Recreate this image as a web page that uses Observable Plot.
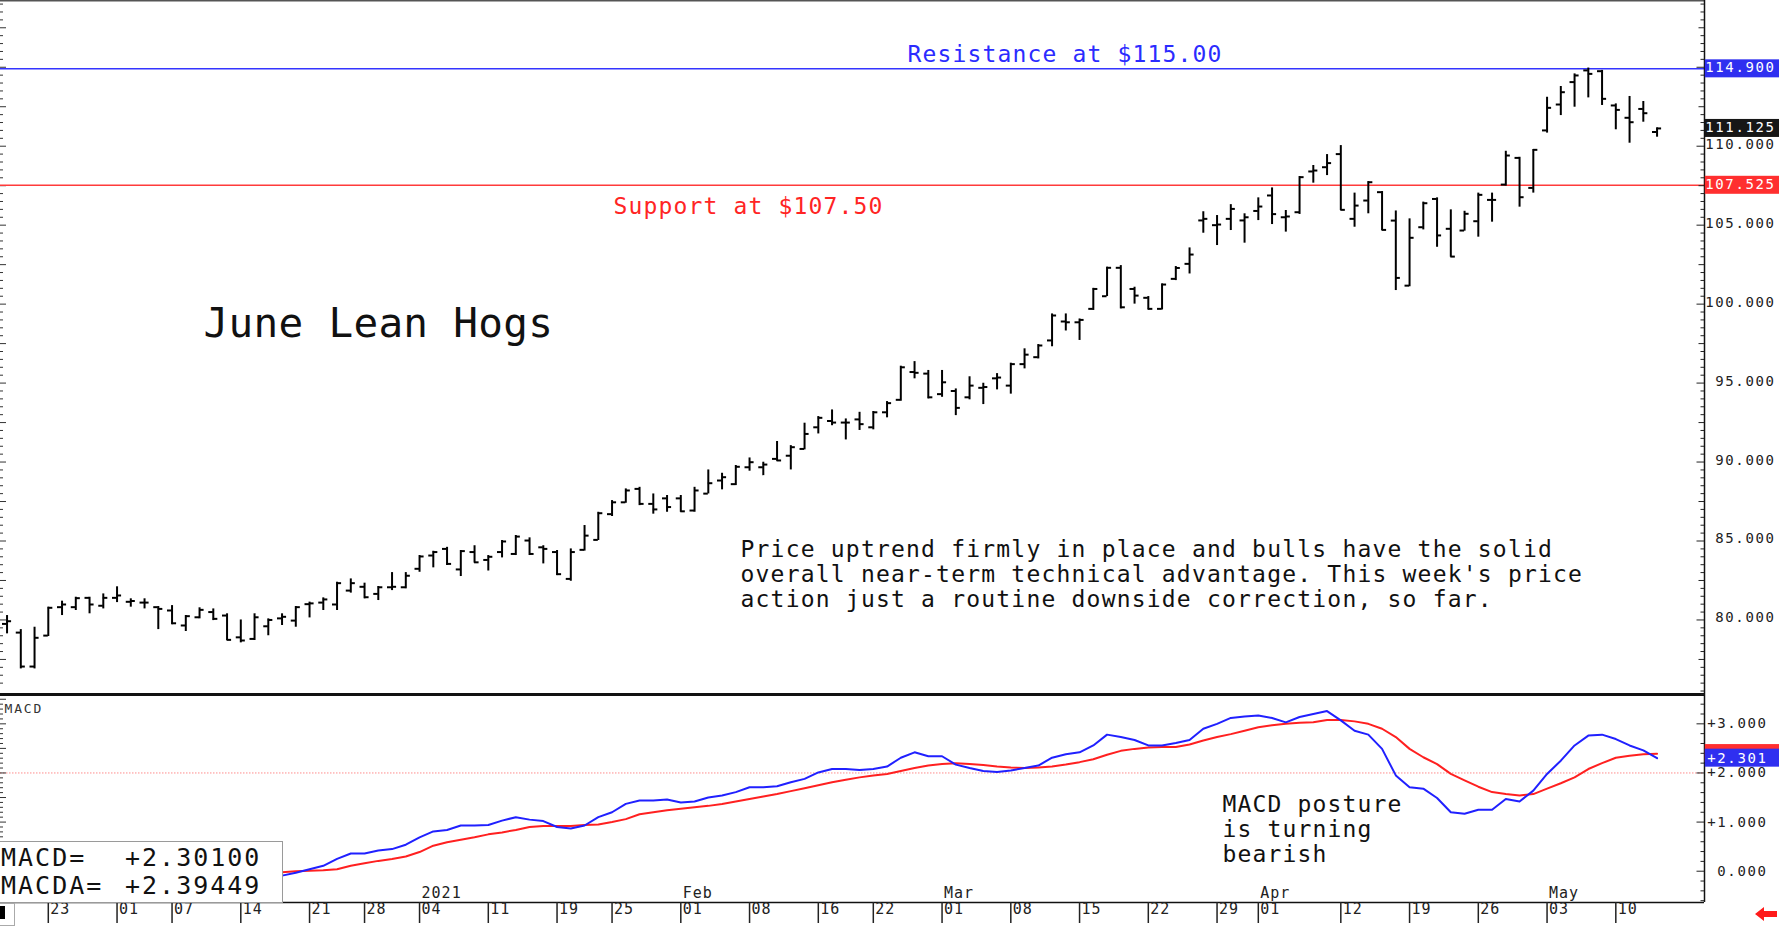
<!DOCTYPE html>
<html>
<head>
<meta charset="utf-8">
<script src="https://cdn.jsdelivr.net/npm/d3@7"></script>
<script src="https://cdn.jsdelivr.net/npm/@observablehq/plot@0.6"></script>
<style>
  body { margin: 0; background: #fff; }
  #wrap { position: relative; width: 1781px; height: 928px; overflow: hidden; background: #fff; }
  #wrap svg { display: block; overflow: visible; max-width: none; }
  .mono { font-family: "DejaVu Sans Mono", monospace; }
</style>
</head>
<body>
<div id="wrap"></div>
<script>
// ---------------- DATA ----------------
const startDate = "2020-11-18";
const endDate = "2021-05-13";
const holidays = ["2020-11-26", "2020-12-25", "2021-01-01", "2021-01-18", "2021-02-15", "2021-04-02"];

const opens = [79.75,79.2,77.05,79.01,80.81,80.81,81.4,80.9,81.4,81.15,
81.1,80.81,80.6,79.65,80.17,80.5,80.28,78.9,78.8,79.6,
80.1,79.96,81.0,81.1,80.98,81.86,82.1,81.65,82.07,82.07,
83.24,84.08,84.5,83.2,84.3,83.8,84.3,84.18,85.03,84.6,
84.3,82.6,84.44,85.07,86.7,87.45,88.3,87.35,87.7,87.7,
86.93,88.0,88.83,88.6,89.67,89.67,90.2,90.4,90.83,92.2,
92.6,92.5,92.7,92.2,93.15,93.94,95.7,95.6,94.3,94.5,
94.1,94.7,95.3,94.84,96.2,96.64,97.7,98.9,98.85,99.7,
100.5,102.3,100.96,100.4,99.7,101.6,102.55,105.3,105.0,105.4,
105.3,105.9,106.88,105.5,105.82,108.4,108.67,109.5,105.4,106.56,
107.09,105.29,101.17,104.87,106.66,104.77,104.66,105.25,106.6,107.57,
109.26,107.36,111.0,112.64,114.06,114.8,114.75,112.58,111.8,112.36,
110.9];

const highs = [80.28,79.39,79.54,80.81,81.19,81.44,81.44,81.65,82.1,81.34,
81.34,80.85,80.91,80.28,80.77,80.7,80.39,80.0,80.39,80.07,
80.39,80.85,81.13,81.4,82.39,82.6,82.33,82.12,83.0,83.0,
84.08,84.35,84.6,84.4,84.7,84.08,85.03,85.35,85.2,84.7,
84.4,84.5,85.98,86.82,87.56,88.3,88.4,87.98,87.88,87.88,
88.4,89.5,89.29,89.78,90.26,89.99,91.3,91.04,92.46,92.88,
93.3,92.73,93.15,93.2,93.83,96.07,96.36,95.8,95.8,94.63,
95.4,94.99,95.6,96.26,97.17,97.44,99.38,99.38,99.06,101.0,
102.34,102.44,101.07,100.48,101.28,102.38,103.56,105.85,105.61,106.3,
105.72,106.73,107.36,105.93,108.08,108.78,109.47,110.04,107.03,107.76,
107.13,105.9,105.4,106.46,106.73,105.97,105.88,107.03,107.03,109.68,
109.3,109.79,113.1,113.78,114.58,114.95,114.8,112.68,113.15,112.83,
111.16];

const lows = [79.12,76.9,76.9,78.95,80.28,80.6,80.39,80.7,81.1,80.81,
80.7,79.39,79.7,79.27,80.07,79.96,78.7,78.55,78.7,79.0,
79.65,79.54,80.13,80.6,80.6,81.7,81.34,81.23,81.86,81.97,
83.02,83.3,83.45,82.75,83.6,83.1,83.93,84.08,84.08,83.55,
82.81,82.45,84.36,85.03,86.55,87.39,87.24,86.7,86.82,86.82,
86.82,87.98,88.24,88.51,89.42,89.14,90.05,89.5,90.77,91.78,
92.3,91.4,92.0,92.04,92.8,93.85,95.27,94.0,94.1,92.94,
93.94,93.64,94.57,94.3,95.9,96.53,97.3,98.3,97.7,99.6,
100.48,99.7,100.0,99.63,99.63,101.49,101.91,104.49,103.71,104.66,
103.86,105.29,105.04,104.56,105.68,107.66,108.14,105.93,104.87,105.72,
104.66,100.86,101.1,104.7,103.6,102.97,104.62,104.24,105.19,107.47,
106.14,107.03,110.83,111.94,112.47,113.06,112.58,111.04,110.19,111.52,
110.57];

const closes = [79.92,77.05,78.87,80.77,80.98,81.38,80.98,81.4,81.55,81.2,
81.1,80.7,79.79,80.24,80.64,80.07,78.74,78.7,80.17,80.0,
80.2,80.81,81.05,81.3,82.33,82.33,81.44,82.07,82.1,82.8,
84.02,84.3,83.55,84.36,83.65,84.0,84.97,85.28,84.18,84.5,
82.9,84.3,85.34,86.76,87.45,88.2,87.35,87.0,87.15,86.88,
88.2,88.66,89.04,89.7,89.99,89.84,90.1,90.94,91.78,92.8,
92.5,92.5,92.4,93.15,93.73,96.0,95.65,94.1,95.05,93.43,
94.84,94.75,95.35,96.2,96.8,97.38,99.28,98.85,99.0,100.96,
102.3,99.8,100.54,99.7,101.24,102.29,103.14,105.4,105.04,106.03,
105.5,106.18,105.7,105.55,108.04,108.46,108.93,105.97,106.24,107.72,
104.7,101.66,104.2,106.39,104.35,103.01,105.72,106.92,106.6,109.41,
106.77,109.77,112.43,113.42,114.48,114.58,113.0,112.3,111.52,112.09,
111.125];

// MACD (blue) and its average (red), from the 21st session on
const macdStart = 20;
const macd = [-0.09,-0.03,0.04,0.11,0.25,0.36,0.36,0.42,0.45,0.54,
0.69,0.81,0.84,0.93,0.93,0.94,1.03,1.10,1.05,1.02,
0.90,0.87,0.93,1.10,1.20,1.37,1.44,1.44,1.46,1.40,
1.42,1.50,1.54,1.61,1.71,1.71,1.73,1.81,1.88,2.01,
2.08,2.08,2.06,2.08,2.13,2.31,2.42,2.34,2.34,2.17,
2.10,2.04,2.02,2.05,2.10,2.15,2.31,2.38,2.42,2.56,
2.78,2.73,2.67,2.56,2.56,2.61,2.67,2.90,3.00,3.12,
3.15,3.17,3.12,3.03,3.14,3.20,3.26,3.07,2.86,2.78,
2.49,1.95,1.71,1.68,1.49,1.20,1.17,1.25,1.25,1.47,
1.42,1.64,1.98,2.25,2.56,2.76,2.78,2.69,2.56,2.46,
2.30];
const macdAvg = [-0.02,0.00,0.01,0.02,0.04,0.11,0.16,0.21,0.25,0.30,
0.39,0.52,0.59,0.64,0.69,0.75,0.79,0.84,0.90,0.92,
0.92,0.92,0.94,0.95,1.00,1.06,1.16,1.20,1.24,1.27,
1.30,1.33,1.37,1.42,1.47,1.52,1.57,1.63,1.69,1.75,
1.81,1.86,1.91,1.95,1.98,2.04,2.10,2.15,2.18,2.20,
2.18,2.16,2.13,2.11,2.10,2.11,2.13,2.17,2.22,2.28,
2.37,2.45,2.49,2.52,2.53,2.53,2.58,2.66,2.73,2.79,
2.86,2.93,2.97,3.00,3.02,3.03,3.08,3.08,3.05,3.00,
2.90,2.73,2.49,2.32,2.18,1.98,1.85,1.72,1.61,1.57,
1.54,1.57,1.68,1.79,1.91,2.08,2.20,2.31,2.35,2.38,
2.39];

const resistance = 114.9;
const support = 107.525;
const lastPrice = 111.125;
const macdValue = 2.30100;
const macdAvgValue = 2.39449;

const priceTicks = [80, 85, 90, 95, 100, 105, 110];
const macdTicks = [0, 1, 2, 3];
const dateTicks = ["2020-11-23","2020-12-01","2020-12-07","2020-12-14","2020-12-21","2020-12-28",
  "2021-01-04","2021-01-11","2021-01-19","2021-01-25","2021-02-01","2021-02-08","2021-02-16",
  "2021-02-22","2021-03-01","2021-03-08","2021-03-15","2021-03-22","2021-03-29","2021-04-01",
  "2021-04-12","2021-04-19","2021-04-26","2021-05-03","2021-05-10"];
const monthDates = ["2021-01-04", "2021-02-01", "2021-03-01", "2021-04-01", "2021-05-03"];
const monthLabels = ["2021", "Feb", "Mar", "Apr", "May"];

const title = "June Lean Hogs";
const resistanceLabel = "Resistance at $115.00";
const supportLabel = "Support at $107.50";
const comment = "Price uptrend firmly in place and bulls have the solid\noverall near-term technical advantage. This week's price\naction just a routine downside correction, so far.";
const macdComment = "MACD posture\nis turning\nbearish";

// ---------------- BUILD ----------------
const fmt = d3.utcFormat("%Y-%m-%d");
const days = d3.utcDay.range(new Date(startDate), d3.utcDay.offset(new Date(endDate), 1))
  .filter(d => d.getUTCDay() % 6 !== 0 && !holidays.includes(fmt(d)));
const idxOf = new Map(days.map((d, i) => [fmt(d), i]));
const bars = days.map((d, i) => ({i, date: d, o: opens[i], h: highs[i], l: lows[i], c: closes[i]}));
const macdData = macd.map((v, k) => ({i: k + macdStart, macd: v, avg: macdAvg[k]}));

const W = 1781, PLOT_R = 77;
const X_DOMAIN = [-0.476, 123.45];
const PX = (W - PLOT_R) / (X_DOMAIN[1] - X_DOMAIN[0]);
const xMin = X_DOMAIN[0], xMax = X_DOMAIN[1];

const H1 = 694;
const Y_DOMAIN = [75.28, 119.227];
const PY = H1 / (Y_DOMAIN[1] - Y_DOMAIN[0]);

const H2 = 234, MB2 = 26;
const M_DOMAIN = [-0.637, 3.597];
const PM = (H2 - MB2) / (M_DOMAIN[1] - M_DOMAIN[0]);

const BLUE = "#3434ff", RED = "#ff3b3b", BOXBLUE = "#2f2ff0", BOXRED = "#ff2f2f";
const FONT = "DejaVu Sans Mono";
const ls = px => ({ariaDescription: "ls:" + px});

const leftTicks = d3.range(76, 119.01, 0.5);
const rightTicks = d3.range(75.5, 119.01, 0.5);
const isMult = (v, m) => Math.abs(v / m - Math.round(v / m)) < 1e-6;

const priceBoxes = [
  {v: resistance, fill: BOXBLUE, text: resistance.toFixed(3)},
  {v: lastPrice, fill: "#161616", text: lastPrice.toFixed(3)},
  {v: support, fill: BOXRED, text: support.toFixed(3)}
];

const price = Plot.plot({
  width: W, height: H1,
  marginTop: 0, marginBottom: 0, marginLeft: 0, marginRight: PLOT_R,
  x: {domain: X_DOMAIN, axis: null, label: null},
  y: {domain: Y_DOMAIN, axis: null, label: null},
  style: {fontFamily: FONT, background: "white", overflow: "visible"},
  marks: [
    Plot.ruleY([Y_DOMAIN[1]], {stroke: "#555", strokeWidth: 2}),
    Plot.ruleY(leftTicks, {y: d => d, x1: () => xMin, x2: d => xMin + (isMult(d, 2.5) ? 6 : 3) / PX, stroke: "#333"}),
    Plot.ruleY([support], {stroke: RED, strokeWidth: 1.5}),
    Plot.ruleY([resistance], {stroke: BLUE, strokeWidth: 1.5}),
    Plot.ruleX(bars, {x: "i", y1: "l", y2: "h", stroke: "black", strokeWidth: 2}),
    Plot.ruleY(bars, {y: "o", x1: d => d.i - 0.33, x2: "i", stroke: "black", strokeWidth: 2}),
    Plot.ruleY(bars, {y: "c", x1: "i", x2: d => d.i + 0.33, stroke: "black", strokeWidth: 2}),
    Plot.ruleX([xMax], {stroke: "#111", strokeWidth: 1.5}),
    Plot.ruleY(rightTicks, {y: d => d, x1: d => xMax - (isMult(d, 5) ? 7.5 : isMult(d, 2.5) ? 5.5 : 3.5) / PX, x2: () => xMax, stroke: "#222"}),
    Plot.text(priceTicks, {x: () => xMax, y: d => d, text: d => d.toFixed(3), textAnchor: "end", dx: 71, dy: -2, fontSize: 14, fill: "#222", ...ls(1.6)}),
    Plot.rect(priceBoxes, {x1: () => xMax + 0.8 / PX, x2: () => xMax + 75 / PX, y1: d => d.v - 9 / PY, y2: d => d.v + 9 / PY, fill: d => d.fill}),
    Plot.text(priceBoxes, {x: () => xMax, y: "v", text: "text", textAnchor: "end", dx: 71, dy: -1, fontSize: 14, fill: "white", ...ls(1.6)}),
    Plot.text([resistanceLabel], {frameAnchor: "top-left", dx: 907, dy: 61, text: d => d, lineAnchor: "bottom", textAnchor: "start", fontSize: 23, fill: "#2b2bff", ...ls(1.15)}),
    Plot.text([supportLabel], {frameAnchor: "top-left", dx: 613, dy: 213, text: d => d, lineAnchor: "bottom", textAnchor: "start", fontSize: 23, fill: "#ff2424", ...ls(1.15)}),
    Plot.text([title], {frameAnchor: "top-left", dx: 203, dy: 336, text: d => d, lineAnchor: "bottom", textAnchor: "start", fontSize: 41, fill: "#111", ...ls(0.3)}),
    Plot.text([comment], {frameAnchor: "top-left", dx: 740, dy: 606, text: d => d, lineAnchor: "bottom", textAnchor: "start", fontSize: 23, lineHeight: 25 / 23, fill: "#111", ...ls(1.2)})
  ]
});

const macdLeftTicks = d3.range(-0.5, 3.51, 0.1);
const macdRightTicks = d3.range(-0.6, 3.61, 0.2);
const macdBoxes = [
  {v: macdAvgValue, fill: BOXRED},
  {v: macdValue, fill: BOXBLUE}
];
const tickIdx = dateTicks.map(d => idxOf.get(d));
const monthIdx = monthDates.map(d => idxOf.get(d));

const macdPlot = Plot.plot({
  width: W, height: H2,
  marginTop: 0, marginBottom: MB2, marginLeft: 0, marginRight: PLOT_R,
  x: {domain: X_DOMAIN, axis: null, label: null},
  y: {domain: M_DOMAIN, axis: null, label: null},
  style: {fontFamily: FONT, background: "white", overflow: "visible"},
  marks: [
    Plot.ruleY([2], {stroke: "#ff8c8c", strokeDasharray: "1.5,1.5"}),
    Plot.ruleY(macdLeftTicks, {y: d => d, x1: () => xMin, x2: d => xMin + (isMult(d, 0.5) ? 6 : 3) / PX, stroke: "#333"}),
    Plot.line(macdData, {x: "i", y: "avg", stroke: "#ff2020", strokeWidth: 2}),
    Plot.line(macdData, {x: "i", y: "macd", stroke: "#2020ff", strokeWidth: 2}),
    Plot.ruleY([M_DOMAIN[1]], {stroke: "#111", strokeWidth: 3}),
    Plot.ruleY([M_DOMAIN[0]], {stroke: "#111", strokeWidth: 1.5}),
    Plot.ruleX([xMax], {stroke: "#111", strokeWidth: 1.5}),
    Plot.ruleY(macdRightTicks, {y: d => d, x1: d => xMax - (isMult(d, 1) ? 7.5 : 3.5) / PX, x2: () => xMax, stroke: "#222"}),
    Plot.text(macdTicks, {x: () => xMax, y: d => d, text: d => (d > 0 ? "+" : "") + d.toFixed(3), textAnchor: "end", dx: 63, fontSize: 14, fill: "#222", ...ls(1.6)}),
    Plot.rect(macdBoxes, {x1: () => xMax + 0.8 / PX, x2: () => xMax + 75 / PX, y1: d => d.v - 9 / PM, y2: d => d.v + 9 / PM, fill: d => d.fill}),
    Plot.text([macdValue], {x: () => xMax, y: d => d, text: d => "+" + d.toFixed(3), textAnchor: "end", dx: 63, fontSize: 14, fill: "white", ...ls(1.6)}),
    Plot.axisX(tickIdx, {anchor: "bottom", tickSize: 21, tickFormat: () => "", stroke: "#222", strokeWidth: 1.5}),
    Plot.text(tickIdx, {x: d => d, text: (d, k) => d3.utcFormat("%d")(new Date(dateTicks[k])), frameAnchor: "bottom", dy: 11, dx: 2, textAnchor: "start", fontSize: 15, fill: "#222", ...ls(1)}),
    Plot.text(monthIdx, {x: d => d, text: (d, k) => monthLabels[k], frameAnchor: "bottom", dy: -5, dx: 2, textAnchor: "start", fontSize: 15, fill: "#222", ...ls(1)}),
    Plot.text(["MACD"], {frameAnchor: "top-left", dx: 4, dy: 9, text: d => d, textAnchor: "start", fontSize: 13, fill: "#333", ...ls(1.8)}),
    Plot.text([macdComment], {frameAnchor: "top-left", dx: 1222, dy: 167, text: d => d, lineAnchor: "bottom", textAnchor: "start", fontSize: 23, lineHeight: 25 / 23, fill: "#111", ...ls(1.15)})
  ]
});

function applyLetterSpacing(svg) {
  svg.querySelectorAll("[aria-description^='ls:']").forEach(g => {
    g.setAttribute("letter-spacing", g.getAttribute("aria-description").slice(3) + "px");
  });
}
applyLetterSpacing(price);
applyLetterSpacing(macdPlot);

const wrap = document.getElementById("wrap");
wrap.appendChild(price);
wrap.appendChild(macdPlot);

// MACD readout box
const box = document.createElement("div");
box.className = "mono";
box.style.cssText = "position:absolute;left:0;top:841px;width:282px;height:60px;background:#fff;border:1px solid #9a9a9a;border-left:none;font-size:25px;letter-spacing:2px;color:#111;line-height:28px;";
const rows = [["MACD=", "+" + macdValue.toFixed(5)], ["MACDA=", "+" + macdAvgValue.toFixed(5)]];
rows.forEach((r, k) => {
  const a = document.createElement("span");
  a.textContent = r[0];
  a.style.cssText = `position:absolute;left:1px;top:${2 + k * 28}px;`;
  const b = document.createElement("span");
  b.textContent = r[1];
  b.style.cssText = `position:absolute;left:125px;top:${2 + k * 28}px;`;
  box.appendChild(a); box.appendChild(b);
});
wrap.appendChild(box);

// small marker at bottom-left of the date row
const mark = document.createElement("div");
mark.style.cssText = "position:absolute;left:0;top:903px;width:14px;height:21px;border:1px solid #aaa;border-left:none;background:#fff;";
const markIn = document.createElement("div");
markIn.style.cssText = "position:absolute;left:0;top:2px;width:5px;height:13px;background:#000;";
mark.appendChild(markIn);
wrap.appendChild(mark);

// red back arrow at bottom right
const arrow = document.createElementNS("http://www.w3.org/2000/svg", "svg");
arrow.setAttribute("width", "22"); arrow.setAttribute("height", "14");
arrow.setAttribute("viewBox", "0 0 22 14");
arrow.style.cssText = "position:absolute;left:1755px;top:907px;";
arrow.innerHTML = '<polygon points="0,7 9,0 9,4 22,4 22,10 9,10 9,14" fill="#ff1a1a"/>';
wrap.appendChild(arrow);
</script>
</body>
</html>
